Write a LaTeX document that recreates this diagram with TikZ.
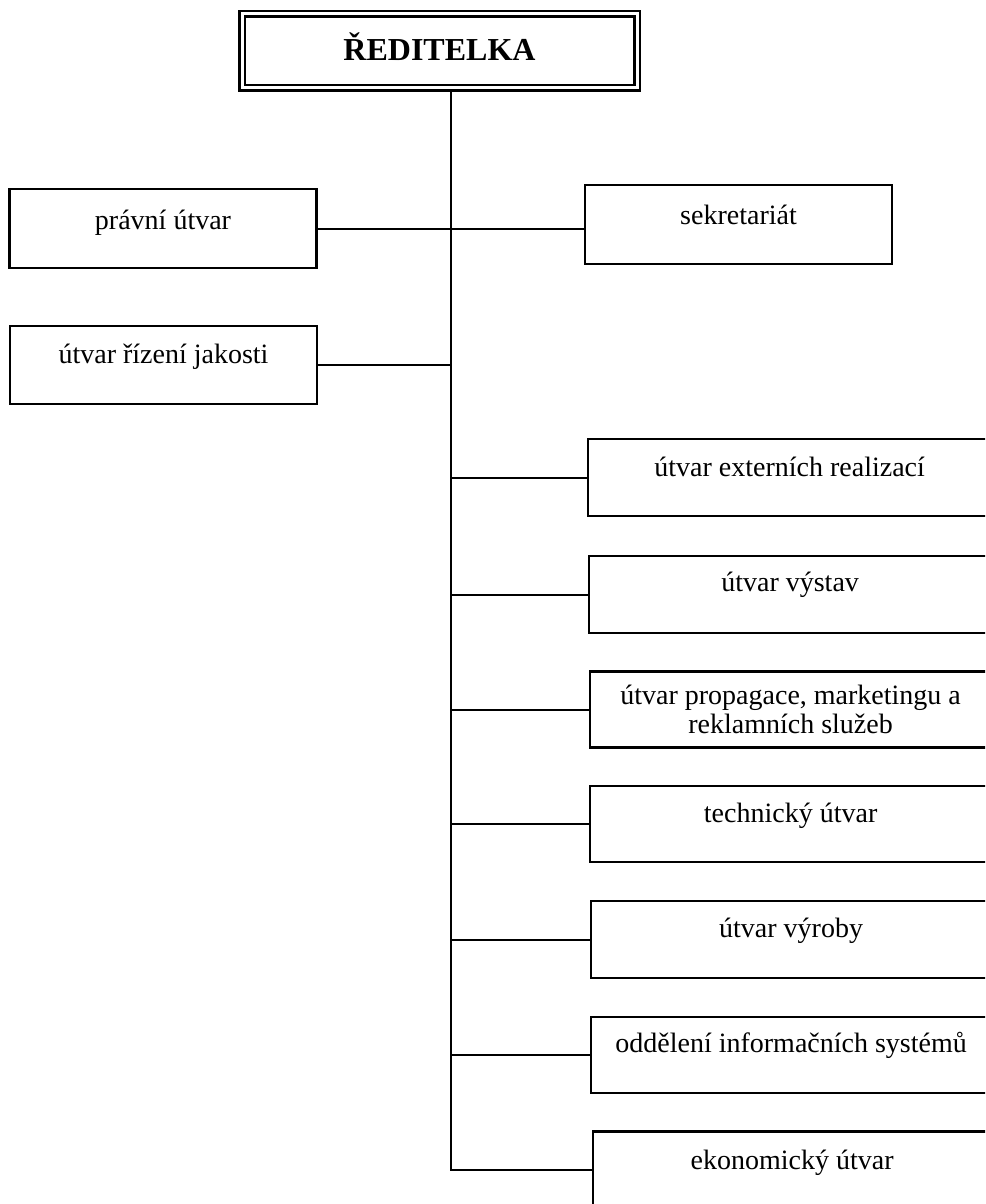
\documentclass[tikz,border=0pt]{standalone}
\usepackage{fontspec}
\setmainfont{Liberation Serif}
\begin{document}
\begin{tikzpicture}[x=0.5pt,y=-0.5pt,
  box/.style={draw, line width=1.1pt, inner xsep=0pt, inner ysep=0pt, align=center,
    font=\fontsize{14}{14.5}\selectfont},
  lbox/.style={box, minimum width=153.5pt, minimum height=39pt},
  rbox/.style={box, anchor=west, minimum height=38.5pt},
  conn/.style={line width=1pt}]
\clip (0,0) rectangle (985,1204);
\fill[white] (0,0) rectangle (985,1204);
% top box
\node[draw, line width=1.3pt, double, double distance=1.5pt, minimum width=197.5pt, minimum height=37pt,
  inner sep=0pt, text height=23.5pt, text depth=13.5pt, font=\fontsize{16}{19}\selectfont\bfseries]
  (dir) at (439.5,51) {ŘEDITELKA};
% left boxes
\node[lbox, text height=20pt, text depth=19.5pt] (prav) at (163,228.5) {právní útvar};
\node[lbox, text height=18.5pt, text depth=20.5pt] (jak) at (163.5,365) {útvar řízení jakosti};
% sekretariat
\node[lbox, text height=19.5pt, text depth=20pt] (sek) at (738.5,224.5) {sekretariát};
% right boxes
\node[rbox, minimum width=201.5pt, text height=18.5pt, text depth=20pt] (ext) at (587,477.5) {útvar externích realizací};
\node[rbox, minimum width=201pt, text height=17.5pt, text depth=21pt] (vys) at (588,594.5) {útvar výstav};
\node[rbox, minimum width=200.5pt, minimum height=38pt, text height=31pt, text depth=7pt] (pro) at (589,709.5) {útvar propagace, marketingu a\\reklamních služeb};
\node[rbox, minimum width=200.5pt, minimum height=38pt, text height=18pt, text depth=20pt] (tech) at (589,824) {technický útvar};
\node[rbox, minimum width=200pt, text height=18pt, text depth=20.5pt] (vyr) at (590,939.5) {útvar výroby};
\node[rbox, minimum width=200pt, minimum height=38pt, text height=17.5pt, text depth=20.5pt] (odd) at (590,1055) {oddělení informačních systémů};
\node[rbox, minimum width=199pt, text height=19pt, text depth=19.5pt] (eko) at (592,1170) {ekonomický útvar};
% spine
\coordinate (sp) at (451,92);
\draw[conn] (sp) |- (eko.west);
% branches
\draw[conn] (prav.east) -- (prav.east -| sek.west);
\draw[conn] (jak.east) -- (jak.east -| sp);
\foreach \n in {ext,vys,pro,tech,vyr,odd}
  \draw[conn] (\n.west -| sp) -- (\n.west);
\end{tikzpicture}
\end{document}
